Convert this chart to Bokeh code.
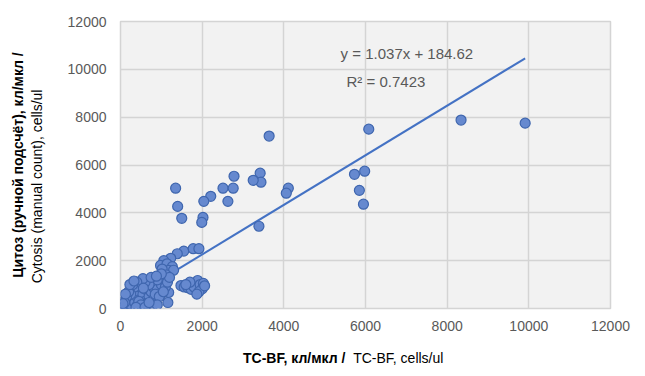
from bokeh.plotting import figure
from bokeh.models import Label, ColumnDataSource, FixedTicker, Range1d, LinearAxis, Div
from bokeh.layouts import column
from bokeh.embed import file_html
from bokeh.resources import INLINE

# ---- data ----
tc_bf = [9910, 8340, 6080, 5730, 5980, 5850, 5950, 4110, 4060, 3640, 3420, 3440, 3250, 3390,
         2780, 2510, 2760, 2630, 2210, 2040, 2020, 1990, 1350, 1400, 1500,
         1550, 1780, 1920, 1390, 1230, 1060, 980, 1140, 1270, 1180, 1020, 1300,
         1480, 1560, 1650, 1730, 1800, 1890, 1950, 2030, 2000, 1920, 1870, 2060, 1700, 1600, 1180, 1160,
         50, 100, 80, 150, 200, 180, 250, 300, 320, 280, 350, 400, 420, 450, 500, 480, 550, 600,
         620, 650, 700, 720, 750, 800, 820, 850, 900, 950, 1000, 1050, 1100, 1120, 1000, 900, 700,
         600, 550, 400, 350, 250, 150, 100, 200, 300, 450, 650, 800, 750, 850, 950, 1050, 500, 380,
         600, 900, 120, 1150, 1200, 1000, 880, 30, 60, 230, 330, 560, 700]
cytosis = [7750, 7880, 7500, 5610, 5740, 4940, 4360, 5030, 4820, 7210, 5660, 5280, 5360, 3440,
           5530, 5030, 5030, 4480, 4690, 4480, 3810, 3600, 5030, 4270, 3770,
           2400, 2500, 2500, 2290, 2100, 2000, 1800, 1870, 1750, 1590, 1650, 1600,
           960, 900, 870, 800, 900, 1170, 1000, 1050, 820, 700, 600, 950, 1100, 1000, 670, 250,
           50, 120, 300, 80, 200, 400, 150, 350, 600, 800, 250, 500, 150, 700, 400, 900, 600, 300,
           800, 1000, 500, 1200, 700, 900, 400, 1100, 800, 1300, 1000, 1200, 900, 1400, 600, 1200, 1000,
           1100, 1250, 1100, 900, 600, 500, 250, 700, 1000, 300, 200, 150, 1300, 600, 500, 700, 150, 50,
           50, 150, 600, 1100, 1300, 1450, 1350, 20, 200, 1000, 1150, 850, 250]

slope = 1.037
intercept = 184.62
equation_text = "y = 1.037x + 184.62"
r2_text = "R² = 0.7423"
x_ticks = [0, 2000, 4000, 6000, 8000, 10000, 12000]
y_ticks = [0, 2000, 4000, 6000, 8000, 10000, 12000]
y_title_bold = "Цитоз (ручной подсчёт), кл/мкл /"
y_title_normal = "Cytosis (manual count), cells/ul"
x_title_bold = "ТС-BF, кл/мкл /"
x_title_normal = "TC-BF, cells/ul"

FONT = "Liberation Sans"
GRAY = "#595959"

p = figure(width=637, height=345, output_backend="svg", toolbar_location=None,
           x_range=Range1d(0, 12000), y_range=Range1d(0, 12000),
           min_border_left=120, min_border_right=27, min_border_top=21, min_border_bottom=37)
p.background_fill_color = "#f2f2f2"
p.border_fill_color = "white"
p.outline_line_color = "#d4d4d4"
p.outline_line_width = 1.5

for ax, ticks in ((p.xaxis, x_ticks), (p.yaxis, y_ticks)):
    ax.ticker = FixedTicker(ticks=ticks)
    ax.axis_line_color = None
    ax.major_tick_line_color = None
    ax.minor_tick_line_color = None
    ax.major_tick_out = 0
    ax.major_tick_in = 0
    ax.major_label_text_font = FONT
    ax.major_label_text_font_size = "14px"
    ax.major_label_text_color = GRAY
p.xaxis.major_label_standoff = 12
p.yaxis.major_label_standoff = 14

# y titles: normal line on the default axis, bold line on an extra axis further out
p.yaxis.axis_label = y_title_normal + "\u00a0" * 11
p.yaxis.axis_label_text_font = FONT
p.yaxis.axis_label_text_font_size = "14px"
p.yaxis.axis_label_text_font_style = "normal"
p.yaxis.axis_label_text_color = "black"
p.yaxis.axis_label_standoff = 20

outer = LinearAxis(ticker=FixedTicker(ticks=[]), axis_label=y_title_bold,
                   axis_line_color=None, major_tick_line_color=None, minor_tick_line_color=None,
                   major_tick_out=0, major_tick_in=0, minor_tick_out=0, major_label_standoff=0,
                   axis_label_standoff=0, axis_label_text_font=FONT, axis_label_text_font_size="14px",
                   axis_label_text_font_style="bold", axis_label_text_color="black")
p.add_layout(outer, "left")

p.xgrid.ticker = FixedTicker(ticks=x_ticks)
p.ygrid.ticker = FixedTicker(ticks=y_ticks)
for g in (p.xgrid, p.ygrid):
    g.grid_line_color = "#d4d4d4"
    g.grid_line_width = 1.5

# trendline from data range
x_line = [min(tc_bf), max(tc_bf)]
y_line = [slope * v + intercept for v in x_line]
p.line(x_line, y_line, line_color="#4472C4", line_width=2)

src = ColumnDataSource(dict(x=tc_bf, y=cytosis))
p.scatter("x", "y", source=src, size=10, fill_color="#6689cf", line_color="#3f66ae",
          line_width=1.2, fill_alpha=1.0)

p.add_layout(Label(x=5390, y=10680, text=equation_text, text_font=FONT, text_font_size="15px",
                   text_color=GRAY, text_baseline="middle", text_align="left"))
p.add_layout(Label(x=5535, y=9510, text=r2_text, text_font=FONT, text_font_size="15px",
                   text_color=GRAY, text_baseline="middle", text_align="left"))

xtitle = Div(text=f"<b>{x_title_bold}</b>&nbsp; {x_title_normal}", width=394, height=24,
             margin=(5, 0, 0, 243),
             styles={"font-family": FONT, "font-size": "14px", "color": "black",
                     "white-space": "nowrap", "line-height": "17px"})

layout = column(p, xtitle, spacing=0)
open("out.html", "w").write(file_html(layout, INLINE))
